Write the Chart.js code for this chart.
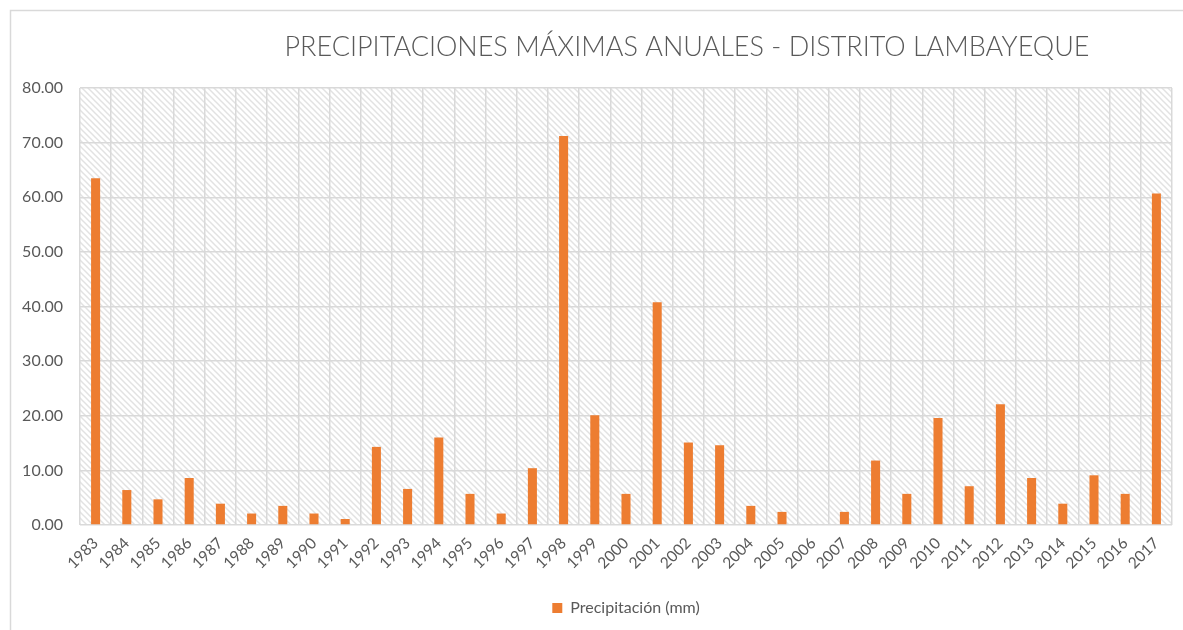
<!DOCTYPE html>
<html>
<head>
<meta charset="utf-8">
<script src="https://cdn.jsdelivr.net/npm/chart.js@4"></script>
<style>
  body { margin: 0; background: #fff; }
</style>
</head>
<body>
<canvas id="graph-1" width="1183" height="630"></canvas>
<script>
const years = ["1983", "1984", "1985", "1986", "1987", "1988", "1989", "1990", "1991", "1992",
  "1993", "1994", "1995", "1996", "1997", "1998", "1999", "2000", "2001", "2002",
  "2003", "2004", "2005", "2006", "2007", "2008", "2009", "2010", "2011", "2012",
  "2013", "2014", "2015", "2016", "2017"];

const precipitacion = [63.5, 6.4, 4.7, 8.6, 3.9, 2.1, 3.5, 2.1, 1.1, 14.3,
  6.6, 16.0, 5.7, 2.1, 10.4, 71.2, 20.1, 5.7, 40.8, 15.1,
  14.6, 3.5, 2.4, 0.0, 2.4, 11.8, 5.7, 19.6, 7.1, 22.1,
  8.6, 3.9, 9.1, 5.7, 60.7];

const yTicks = [0, 10, 20, 30, 40, 50, 60, 70, 80];

const titleText = "PRECIPITACIONES MÁXIMAS ANUALES - DISTRITO LAMBAYEQUE";
const gray = "#595959";
const gridGray = "#d9d9d9";

// diagonal hatch like the Excel plot area fill
function makeHatch(ctx) {
  const tile = document.createElement("canvas");
  tile.width = 6;
  tile.height = 6;
  const t = tile.getContext("2d");
  t.fillStyle = "#fff";
  t.fillRect(0, 0, 6, 6);
  t.strokeStyle = "#e2e2e2";
  t.lineWidth = 1.5;
  t.beginPath();
  t.moveTo(-1, -1); t.lineTo(7, 7);
  t.moveTo(-4, 2); t.lineTo(4, 10);
  t.moveTo(2, -4); t.lineTo(10, 4);
  t.stroke();
  return ctx.createPattern(tile, "repeat");
}

const backdrop = {
  id: "backdrop",
  beforeDraw(chart) {
    const { ctx, chartArea: a } = chart;
    ctx.save();
    // outer chart border (only left and top fall inside the picture)
    ctx.strokeStyle = gridGray;
    ctx.lineWidth = 1.5;
    ctx.beginPath();
    ctx.moveTo(10.5, 640);
    ctx.lineTo(10.5, 10.5);
    ctx.lineTo(1200, 10.5);
    ctx.stroke();
    ctx.fillStyle = makeHatch(ctx);
    ctx.fillRect(a.left, a.top, a.right - a.left, a.bottom - a.top);
    // title, placed off-centre like the original
    ctx.fillStyle = gray;
    ctx.font = "300 27px Lato";
    ctx.textAlign = "center";
    ctx.textBaseline = "middle";
    ctx.fillText(titleText, 687, 47);
    ctx.restore();
  },
};

const ctx = document.getElementById("graph-1").getContext("2d");

const rainChart = new Chart(ctx, {
  type: "bar",
  data: {
    labels: years,
    datasets: [
      {
        label: "Precipitación (mm)",
        data: precipitacion,
        backgroundColor: "#ED7D31",
        borderWidth: 0,
        barPercentage: 0.29,
        categoryPercentage: 1,
      },
    ],
  },
  options: {
    responsive: false,
    animation: false,
    layout: {
      padding: { top: 88, right: 11, left: 0, bottom: 4 },
    },
    scales: {
      x: {
        grid: { offset: true, color: gridGray, lineWidth: 1.5, drawTicks: false },
        border: { display: false },
        ticks: {
          color: gray,
          font: { family: "Lato", size: 15.5 },
          minRotation: 45,
          maxRotation: 45,
          padding: 9,
          autoSkip: false,
        },
        afterFit(scale) {
          scale.height = 65;
        },
      },
      y: {
        min: 0,
        max: 80,
        afterBuildTicks(scale) {
          scale.ticks = yTicks.map((v) => ({ value: v }));
        },
        grid: { color: gridGray, lineWidth: 1.5, drawTicks: false },
        border: { display: false },
        ticks: {
          color: gray,
          font: { family: "Lato", size: 16 },
          padding: 17,
          callback: (v) => Number(v).toFixed(2),
        },
        afterFit(scale) {
          scale.width = 80;
        },
      },
    },
    plugins: {
      legend: {
        display: true,
        position: "bottom",
        fullSize: false,
        labels: {
          color: gray,
          font: { family: "Lato", size: 16 },
          boxWidth: 10,
          boxHeight: 10,
          padding: 10,
        },
      },
      tooltip: { enabled: false },
    },
  },
  plugins: [backdrop],
});
</script>
</body>
</html>
